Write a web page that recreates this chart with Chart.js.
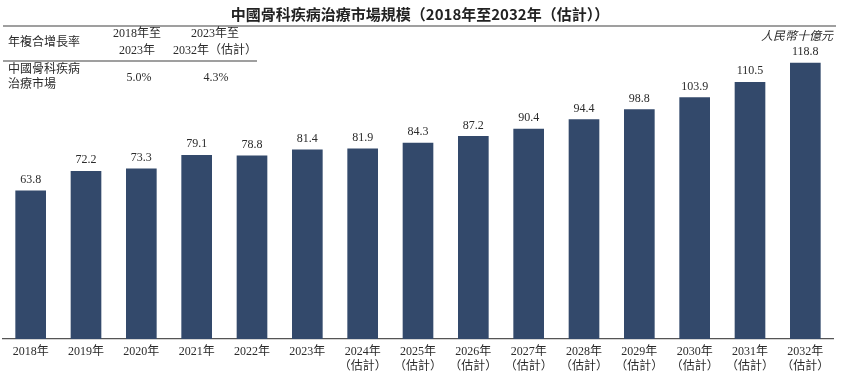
<!DOCTYPE html>
<html>
<head>
<meta charset="utf-8">
<script src="https://cdn.jsdelivr.net/npm/chart.js@4/dist/chart.umd.min.js"></script>
<style>
  html, body { margin: 0; padding: 0; background: #fff; }
  #wrap { width: 842px; height: 376px; position: relative; }
</style>
</head>
<body>
<div id="wrap"><canvas id="chart" width="842" height="376"></canvas></div>
<script>
var years = ['2018年', '2019年', '2020年', '2021年', '2022年', '2023年',
  ['2024年', '（估計）'], ['2025年', '（估計）'], ['2026年', '（估計）'],
  ['2027年', '（估計）'], ['2028年', '（估計）'], ['2029年', '（估計）'],
  ['2030年', '（估計）'], ['2031年', '（估計）'], ['2032年', '（估計）']];
var marketSize = [63.8, 72.2, 73.3, 79.1, 78.8, 81.4, 81.9, 84.3, 87.2, 90.4, 94.4, 98.8, 103.9, 110.5, 118.8];

var chartTitle = '中國骨科疾病治療市場規模（2018年至2032年（估計））';
var unitLabel = '人民幣十億元';
var cagrHeader = ['年複合增長率', ['2018年至', '2023年'], ['2023年至', '2032年（估計）']];
var cagrRow = [['中國骨科疾病', '治療市場'], '5.0%', '4.3%'];

var serif = "'Liberation Serif', 'Noto Sans CJK TC', serif";
var textColor = '#2b2b2b';

// title, cagr table, unit and value labels
var decor = {
  id: 'decor',
  afterDatasetsDraw: function (chart) {
    var ctx = chart.ctx;
    ctx.save();
    ctx.fillStyle = textColor;
    ctx.textBaseline = 'middle';

    ctx.font = "bold 15px 'Noto Sans CJK TC', sans-serif";
    ctx.textAlign = 'center';
    ctx.fillStyle = '#222';
    ctx.fillText(chartTitle, 420, 14);

    ctx.strokeStyle = '#808080';
    ctx.lineWidth = 1.3;
    ctx.beginPath();
    ctx.moveTo(3, 26); ctx.lineTo(836, 26);
    ctx.moveTo(3, 61); ctx.lineTo(257, 61);
    ctx.stroke();

    ctx.fillStyle = textColor;
    ctx.font = '12px ' + serif;
    ctx.textAlign = 'left';
    ctx.fillText(cagrHeader[0], 8, 43);
    ctx.textAlign = 'center';
    ctx.fillText(cagrHeader[1][0], 137, 34);
    ctx.fillText(cagrHeader[1][1], 137, 51);
    ctx.fillText(cagrHeader[2][0], 215, 34);
    ctx.fillText(cagrHeader[2][1], 215, 51);
    ctx.textAlign = 'left';
    ctx.fillText(cagrRow[0][0], 8, 70);
    ctx.fillText(cagrRow[0][1], 8, 85);
    ctx.textAlign = 'center';
    ctx.fillText(cagrRow[1], 139, 78);
    ctx.fillText(cagrRow[2], 216, 78);

    ctx.font = 'italic 12px ' + serif;
    ctx.textAlign = 'right';
    ctx.fillText(unitLabel, 833, 37);

    ctx.font = '12px ' + serif;
    ctx.textAlign = 'center';
    var meta = chart.getDatasetMeta(0);
    meta.data.forEach(function (bar, i) {
      ctx.fillText(marketSize[i].toFixed(1), bar.x, bar.y - 11);
    });
    ctx.restore();
  }
};

new Chart(document.getElementById('chart'), {
  type: 'bar',
  data: {
    labels: years,
    datasets: [{
      data: marketSize,
      backgroundColor: '#33496b',
      barThickness: 30
    }]
  },
  options: {
    responsive: false,
    animation: false,
    events: [],
    layout: { padding: { top: 37, left: 3, right: 9, bottom: 0 } },
    plugins: {
      legend: { display: false },
      title: { display: false },
      tooltip: { enabled: false }
    },
    scales: {
      x: {
        grid: { display: false, drawTicks: false },
        border: { display: true, color: '#555', width: 1.2 },
        afterFit: function (s) { s.height = 37; },
        ticks: {
          color: textColor,
          padding: 6,
          maxRotation: 0,
          autoSkip: false,
          font: { family: serif, size: 12, lineHeight: 1.2 }
        }
      },
      y: {
        display: false,
        min: 0,
        max: 130
      }
    }
  },
  plugins: [decor]
});
</script>
</body>
</html>
